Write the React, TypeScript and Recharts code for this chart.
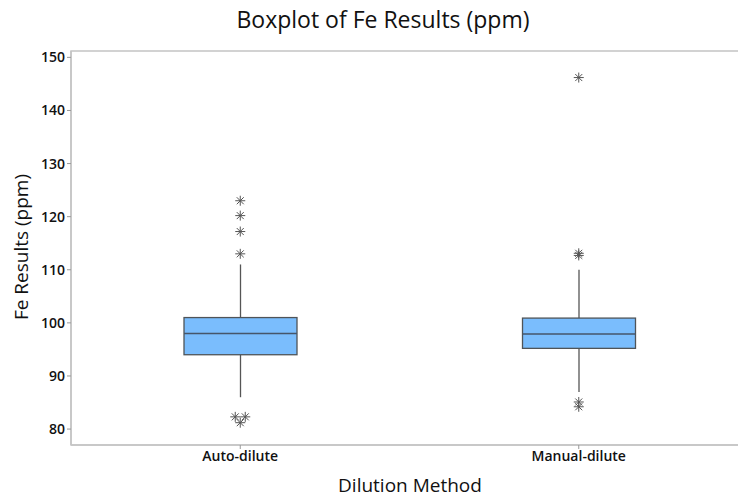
import React from 'react';
import {
  ComposedChart,
  Bar,
  Scatter,
  XAxis,
  YAxis,
  ReferenceArea,
} from 'recharts';

// Box statistics
const categories = ['Auto-dilute', 'Manual-dilute'];
const whiskerLow = [86, 87];
const q1 = [94, 95.2];
const median = [98, 97.9];
const q3 = [101, 100.9];
const whiskerHigh = [111, 110];

// Outliers (asterisks)
const outlierCategory = [
  'Auto-dilute', 'Auto-dilute', 'Auto-dilute', 'Auto-dilute',
  'Auto-dilute', 'Auto-dilute', 'Auto-dilute',
  'Manual-dilute', 'Manual-dilute', 'Manual-dilute', 'Manual-dilute', 'Manual-dilute',
];
const outlierValue = [
  123, 120.2, 117.2, 113,
  82.3, 82.3, 81.2,
  146.2, 113.1, 112.7, 85.1, 84.2,
];

const yTicks = [80, 90, 100, 110, 120, 130, 140, 150];

const FONT = '"Open Sans", "Noto Sans", sans-serif';
const FRAME = '#c4c4c4';

const boxData = categories.map((name, i) => ({
  name,
  range: [whiskerLow[i], whiskerHigh[i]],
  wlo: whiskerLow[i],
  whi: whiskerHigh[i],
  q1: q1[i],
  median: median[i],
  q3: q3[i],
}));

// Minitab draws tied outliers side by side
const outlierData = outlierValue.map((value, i) => {
  const name = outlierCategory[i];
  const ties = outlierValue
    .map((v, j) => ({ v, j }))
    .filter((t) => outlierCategory[t.j] === name && t.v === value);
  const pos = ties.findIndex((t) => t.j === i);
  return { name, value, shift: (pos - (ties.length - 1) / 2) * 10 };
});

function BoxShape(props: any) {
  const { x, y, width, height, payload } = props;
  const top = Math.min(y, y + height);
  const h = Math.abs(height);
  const yOf = (v: number) => top + (h * (payload.whi - v)) / (payload.whi - payload.wlo);
  const cx = x + width / 2;
  const yQ3 = yOf(payload.q3);
  const yQ1 = yOf(payload.q1);
  const yMed = yOf(payload.median);
  return (
    <g>
      <line x1={cx} x2={cx} y1={top} y2={yQ3} stroke="#555" strokeWidth={1.3} />
      <line x1={cx} x2={cx} y1={yQ1} y2={top + h} stroke="#555" strokeWidth={1.3} />
      <rect x={x} y={yQ3} width={width} height={yQ1 - yQ3} fill="#7abdfd" stroke="#4f5458" strokeWidth={1.3} />
      <line x1={x} x2={x + width} y1={yMed} y2={yMed} stroke="#46566a" strokeWidth={1.6} />
    </g>
  );
}

function StarShape(props: any) {
  const { cx, cy, payload } = props;
  const x = cx + (payload?.shift ?? 0);
  const r = 5;
  const d = r * 0.7;
  return (
    <g stroke="#555" strokeWidth={1}>
      <line x1={x - r} x2={x + r} y1={cy} y2={cy} />
      <line x1={x} x2={x} y1={cy - r} y2={cy + r} />
      <line x1={x - d} x2={x + d} y1={cy - d} y2={cy + d} />
      <line x1={x - d} x2={x + d} y1={cy + d} y2={cy - d} />
    </g>
  );
}

export default function App() {
  return (
    <div
      style={{
        position: 'fixed',
        left: 0,
        top: 0,
        width: 738,
        height: 499,
        overflow: 'hidden',
        background: '#fff',
        fontFamily: FONT,
      }}
    >
      <div
        style={{
          position: 'absolute',
          top: 3,
          left: 0,
          width: 766,
          textAlign: 'center',
          fontSize: 23,
          fontWeight: 500,
          color: '#111',
        }}
      >
        Boxplot of Fe Results (ppm)
      </div>
      <div
        style={{
          position: 'absolute',
          left: 21,
          top: 247,
          transform: 'translate(-50%, -50%) rotate(-90deg)',
          whiteSpace: 'nowrap',
          fontSize: 19,
          color: '#111',
        }}
      >
        Fe Results (ppm)
      </div>
      <div
        style={{
          position: 'absolute',
          top: 472,
          left: 310,
          width: 200,
          textAlign: 'center',
          fontSize: 19,
          color: '#111',
        }}
      >
        Dilution Method
      </div>
      <ComposedChart
        width={770}
        height={499}
        data={boxData}
        margin={{ top: 51, right: 22, bottom: 0, left: 0 }}
      >
        <ReferenceArea y1={77} y2={151.2} fill="none" stroke={FRAME} strokeWidth={1.5} ifOverflow="visible" />
        <XAxis
          dataKey="name"
          type="category"
          allowDuplicatedCategory={false}
          axisLine={{ stroke: FRAME, strokeWidth: 1.5 }}
          tickLine={{ stroke: '#999' }}
          tickSize={4}
          tick={{ fill: '#111', fontSize: 14, fontWeight: 600, fontFamily: FONT }}
          height={54}
        />
        <YAxis
          type="number"
          domain={[77, 151.2]}
          ticks={yTicks}
          allowDataOverflow
          width={71}
          axisLine={{ stroke: FRAME, strokeWidth: 1.5 }}
          tickLine={{ stroke: '#999' }}
          tickSize={4}
          tick={{ fill: '#111', fontSize: 14, fontWeight: 600, fontFamily: FONT }}
        />
        <Bar dataKey="range" barSize={113} shape={<BoxShape />} isAnimationActive={false} />
        <Scatter data={outlierData} dataKey="value" shape={<StarShape />} isAnimationActive={false} />
      </ComposedChart>
    </div>
  );
}
